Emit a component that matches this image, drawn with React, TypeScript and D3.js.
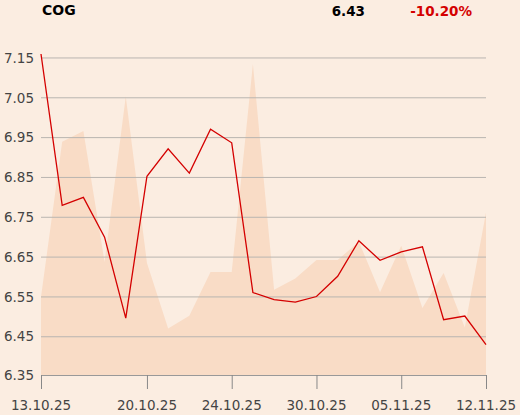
import React from "react";
import { scalePoint, scaleLinear, line, area } from "d3";

const ticker = "COG";
const lastPrice = "6.43";
const change = "-10.20%";

// trading days shown on the x axis
const dates = [
  "13.10.25", "14.10.25", "15.10.25", "16.10.25", "17.10.25",
  "20.10.25", "21.10.25", "22.10.25", "23.10.25", "24.10.25",
  "27.10.25", "28.10.25", "29.10.25", "30.10.25", "31.10.25",
  "03.11.25", "04.11.25", "05.11.25", "06.11.25", "07.11.25",
  "10.11.25", "12.11.25",
];
const tickDates = ["13.10.25", "20.10.25", "24.10.25", "30.10.25", "05.11.25", "12.11.25"];

const prices = [
  7.16, 6.78, 6.80, 6.70, 6.497, 6.853, 6.922, 6.861, 6.971, 6.937,
  6.561, 6.543, 6.537, 6.551, 6.602, 6.691, 6.642, 6.663, 6.676, 6.493,
  6.502, 6.43,
];
// volume, millions (background area)
const volumes = [
  2.4, 7.18, 7.51, 3.48, 8.57, 3.45, 1.43, 1.82, 3.17, 3.17,
  9.57, 2.62, 2.97, 3.54, 3.54, 4.1, 2.55, 3.98, 2.06, 3.14,
  1.46, 5.0,
];
const priceTicks = [7.15, 7.05, 6.95, 6.85, 6.75, 6.65, 6.55, 6.45];

const W = 520;
const H = 415;
const left = 41;
const right = 486;
const top = 50;
const bottom = 375;

export default function App() {
  const x = scalePoint<string>().domain(dates).range([left, right]);
  const y = scaleLinear().domain([6.354, 7.17]).range([bottom, top]);
  const yVol = scaleLinear().domain([0, 10]).range([bottom, top]);

  const priceLine = line<number>()
    .x((_, i) => x(dates[i])!)
    .y((d) => y(d));
  const volArea = area<number>()
    .x((_, i) => x(dates[i])!)
    .y0(bottom)
    .y1((d) => yVol(d));

  const font = "'DejaVu Sans', sans-serif";

  return (
    <div style={{ position: "absolute", left: 0, top: 0 }}>
      <svg width={W} height={H} style={{ display: "block", background: "#fbede1" }} fontFamily={font}>
        <path d={volArea(volumes)!} fill="#f9dcc6" />
        {priceTicks.map((t) => (
          <g key={t}>
            <line x1={left} x2={right} y1={y(t)} y2={y(t)} stroke="#b9b5b0" strokeWidth={1} />
            <text x={34} y={y(t)} dy="0.35em" textAnchor="end" fontSize={13.5} fill="#444">
              {t.toFixed(2)}
            </text>
          </g>
        ))}
        <text x={34} y={bottom} dy="0.35em" textAnchor="end" fontSize={13.5} fill="#444">
          6.35
        </text>
        <line x1={left} x2={right} y1={bottom + 0.5} y2={bottom + 0.5} stroke="#999" strokeWidth={1} />
        {tickDates.map((d) => (
          <g key={d}>
            <line x1={x(d)! + 0.5} x2={x(d)! + 0.5} y1={bottom} y2={bottom + 14} stroke="#888" strokeWidth={1} />
            <text x={x(d)!} y={410} textAnchor="middle" fontSize={13.5} fill="#444">
              {d}
            </text>
          </g>
        ))}
        <path d={priceLine(prices)!} fill="none" stroke="#d40000" strokeWidth={1.3} />
        <text x={42} y={15} fontSize={14} fontWeight="bold" fill="#000">
          {ticker}
        </text>
        <text x={365} y={16} textAnchor="end" fontSize={13.5} fontWeight="bold" fill="#000">
          {lastPrice}
        </text>
        <text x={472} y={16} textAnchor="end" fontSize={13.5} fontWeight="bold" fill="#d40000">
          {change}
        </text>
      </svg>
    </div>
  );
}
